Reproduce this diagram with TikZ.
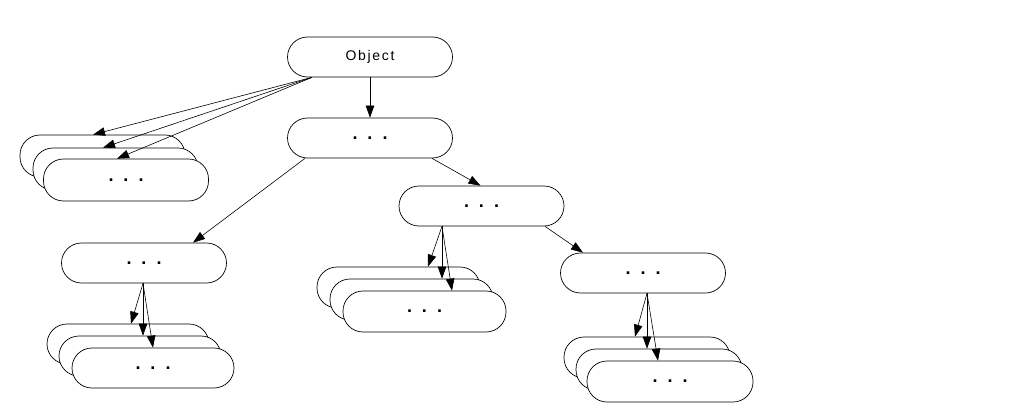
\documentclass[tikz,border=0pt]{standalone}
\usepackage{fontspec}
\setmainfont{Liberation Sans}
\usetikzlibrary{arrows.meta}
\tikzset{
  box/.style={draw, fill=white, line width=0.7pt, rounded corners=20pt, inner sep=0pt,
    minimum width=165pt, minimum height=40pt, font=\fontsize{14}{16}\selectfont},
  sbox/.style={box, minimum height=41pt},
  arr/.style={line width=0.6pt, -{Triangle[length=12pt,width=8.5pt]}}
}
\newcommand{\dd}{{\fontsize{18}{18}\selectfont\bfseries .\hspace{10pt}.\hspace{10pt}.}}
\begin{document}
\begin{tikzpicture}[x=1pt,y=-1pt]
\useasboundingbox (0,0) rectangle (1012,415);
% main tree nodes
\node[box] (obj) at (370,57) {\addfontfeatures{LetterSpace=12}Object};
\node[box] (l1) at (370,138) {\dd};
\node[box] (L2) at (144,263) {\dd};
\node[box] (M) at (481.5,206) {\dd};
\node[box] (R) at (643,273) {\dd};
% stacks
\node[sbox, minimum height=42pt] (oA) at (102.5,156) {};
\node[sbox, minimum height=42pt] (oB) at (115.5,169) {};
\node[sbox, minimum height=42pt] (oC) at (126,180) {\dd};
\node[box, minimum width=162pt] (lA) at (128,344) {};
\node[box, minimum width=162pt] (lB) at (140,356) {};
\node[box, minimum width=162pt] (lC) at (153,368) {\dd};
\node[sbox, minimum width=163pt] (mA) at (398.5,287.5) {};
\node[sbox, minimum width=163pt] (mB) at (411.5,299.5) {};
\node[sbox, minimum width=163pt] (mC) at (424.5,311.5) {\dd};
\node[sbox, minimum width=166pt] (rA) at (647,357.5) {};
\node[sbox, minimum width=166pt] (rB) at (659,369.5) {};
\node[sbox, minimum width=166pt] (rC) at (670,381.5) {\dd};
% arrows
\draw[arr] (obj.south) -- (l1.north);
\draw[arr] ([xshift=-58pt]obj.south) -- ([xshift=-9.5pt]oA.north);
\draw[arr] ([xshift=-58pt]obj.south) -- ([xshift=-12.5pt]oB.north);
\draw[arr] ([xshift=-58pt]obj.south) -- ([xshift=-9pt]oC.north);
\draw[arr] ([xshift=-65pt]l1.south) -- ([xshift=49pt]L2.north);
\draw[arr] ([xshift=62pt]l1.south) -- ([xshift=-1pt]M.north);
\draw[arr] ([xshift=63.5pt]M.south) -- ([xshift=-60pt]R.north);
\draw[arr] ([xshift=-39.5pt]M.south) -- ([xshift=29.5pt]mA.north);
\draw[arr] ([xshift=-39.5pt]M.south) -- ([xshift=30.5pt]mB.north);
\draw[arr] ([xshift=-39.5pt]M.south) -- ([xshift=27.5pt]mC.north);
\draw[arr] ([xshift=4pt]R.south) -- ([xshift=-12pt]rA.north);
\draw[arr] ([xshift=4pt]R.south) -- ([xshift=-12pt]rB.north);
\draw[arr] ([xshift=4pt]R.south) -- ([xshift=-12pt]rC.north);
\draw[arr] ([xshift=-1pt]L2.south) -- ([xshift=3pt]lA.north);
\draw[arr] ([xshift=-1pt]L2.south) -- ([xshift=3pt]lB.north);
\draw[arr] ([xshift=-1pt]L2.south) -- (lC.north);
\end{tikzpicture}
\end{document}
